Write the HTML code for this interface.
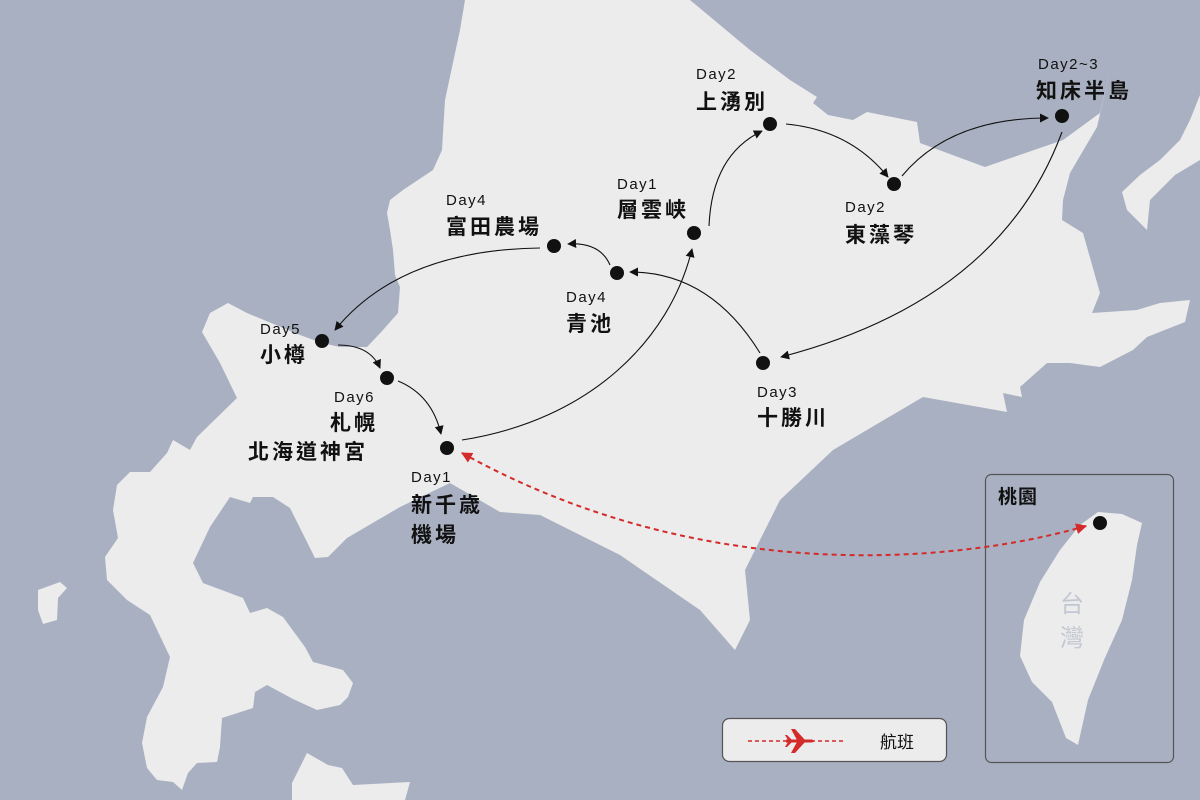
<!DOCTYPE html>
<html><head><meta charset="utf-8"><style>
html,body{margin:0;padding:0;background:#a9b0c1;}
svg{display:block}
.d{font-family:"Liberation Sans","Noto Sans CJK JP",sans-serif;font-size:15px;fill:#111;letter-spacing:1.5px}
.n{font-family:"Liberation Sans","Noto Sans CJK TC",sans-serif;font-size:21px;font-weight:bold;fill:#111;letter-spacing:3px}
</style></head><body>
<svg width="1200" height="800" viewBox="0 0 1200 800" xmlns="http://www.w3.org/2000/svg">
<defs>
<marker id="a" viewBox="0 0 10 10" refX="9" refY="5" markerWidth="9" markerHeight="9" orient="auto-start-reverse" markerUnits="userSpaceOnUse"><path d="M0,0 L10,5 L0,10 z" fill="#111"/></marker>
<marker id="r" viewBox="0 0 10 10" refX="9" refY="5" markerWidth="11" markerHeight="11" orient="auto-start-reverse" markerUnits="userSpaceOnUse"><path d="M0,0 L10,5 L0,10 z" fill="#d42a2a"/></marker>
</defs>
<rect width="1200" height="800" fill="#a9b0c1"/>
<g fill="#ececec">
<polygon points="465,0 690,0 750,50 790,80 817,97 813,103 828,115 853,120 867,112 917,122 920,143 985,167 1063,140 1100,113 1112,62 1097,127 1070,173 1063,200 1062,220 1083,233 1100,293 1092,313 1137,310 1160,303 1190,300 1185,322 1147,337 1133,350 1100,367 1070,363 1047,363 1020,387 1022,397 1003,393 1007,412 923,397 833,450 780,500 745,570 750,620 735,650 700,610 620,555 540,515 500,512 450,483 400,507 347,538 328,557 315,558 290,508 273,497 253,497 250,503 230,497 210,527 193,563 203,583 243,598 250,613 267,608 283,617 305,647 313,662 343,670 353,683 348,697 340,705 317,710 293,699 267,685 255,692 253,708 222,718 220,747 217,762 197,763 188,773 182,790 173,782 157,780 147,768 142,743 147,717 163,687 170,657 150,615 127,600 107,580 105,557 118,538 113,510 117,485 130,472 150,472 167,453 173,440 190,450 197,437 237,398 220,363 202,332 210,313 228,303 247,313 300,335 322,343 340,347 367,347 383,330 398,313 400,287 395,275 393,250 390,230 387,213 390,200 403,190 433,170 442,150 445,100 460,30"/>
<polygon points="38,590 60,582 67,588 58,598 57,620 43,624 38,610"/>
<polygon points="292,783 307,753 328,765 342,768 353,785 410,782 405,800 292,800"/>
<polygon points="1200,95 1190,120 1180,140 1160,160 1140,175 1122,192 1127,210 1147,230 1150,200 1175,175 1200,160"/>
</g>
<rect x="985.5" y="474.5" width="188" height="288" rx="6" fill="#a9b0c1" stroke="#555" stroke-width="1.2"/>
<polygon fill="#ececec" points="1098,512 1122,514 1142,523 1137,545 1132,580 1122,620 1104,660 1088,700 1078,745 1066,738 1052,702 1032,682 1020,656 1024,620 1040,582 1060,550 1080,525"/>
<text x="1060" y="612" font-family="Liberation Sans,Noto Sans CJK TC,sans-serif" font-size="24" fill="#c3c7d2">台</text>
<text x="1060" y="646" font-family="Liberation Sans,Noto Sans CJK TC,sans-serif" font-size="24" fill="#c3c7d2">灣</text>
<text x="998" y="503" class="n" style="font-size:19px;letter-spacing:1px">桃園</text>
<circle cx="1100" cy="523" r="7" fill="#111"/>
<g fill="none" stroke="#111" stroke-width="1.1" marker-end="url(#a)">
<path d="M462,440 C590,420 670,340 692,249"/>
<path d="M709,226 Q712,155 762,131"/>
<path d="M786,124 Q850,130 888,177"/>
<path d="M902,176 Q950,118 1048,118"/>
<path d="M1062,132 Q1000,300 781,357"/>
<path d="M760,353 Q710,272 630,272"/>
<path d="M610,265 Q600,242 568,244"/>
<path d="M540,248 Q400,250 335,330"/>
<path d="M338,345 Q370,345 380,368"/>
<path d="M398,381 Q432,395 441,434"/>
</g>
<path d="M1086,526 C950,565 700,585 462,453" fill="none" stroke="#d42a2a" stroke-width="2" stroke-dasharray="5,4" marker-end="url(#r)" marker-start="url(#r)"/>
<g fill="#111">
<circle cx="447" cy="448" r="7"/><circle cx="387" cy="378" r="7"/><circle cx="322" cy="341" r="7"/>
<circle cx="554" cy="246" r="7"/><circle cx="617" cy="273" r="7"/><circle cx="694" cy="233" r="7"/>
<circle cx="770" cy="124" r="7"/><circle cx="894" cy="184" r="7"/><circle cx="1062" cy="116" r="7"/>
<circle cx="763" cy="363" r="7"/>
</g>
<text class="d" x="696" y="79">Day2</text><text class="n" x="696" y="109">上湧別</text>
<text class="d" x="1038" y="69">Day2~3</text><text class="n" x="1036" y="98">知床半島</text>
<text class="d" x="845" y="212">Day2</text><text class="n" x="845" y="242">東藻琴</text>
<text class="d" x="617" y="189">Day1</text><text class="n" x="617" y="217">層雲峡</text>
<text class="d" x="446" y="205">Day4</text><text class="n" x="446" y="234">富田農場</text>
<text class="d" x="566" y="302">Day4</text><text class="n" x="566" y="331">青池</text>
<text class="d" x="260" y="334">Day5</text><text class="n" x="260" y="362">小樽</text>
<text class="d" x="334" y="402">Day6</text><text class="n" x="330" y="430">札幌</text>
<text class="n" x="248" y="459">北海道神宮</text>
<text class="d" x="411" y="482">Day1</text><text class="n" x="411" y="512">新千歳</text><text class="n" x="411" y="542">機場</text>
<text class="d" x="757" y="397">Day3</text><text class="n" x="757" y="425">十勝川</text>
<rect x="722.5" y="718.5" width="224" height="43" rx="7" fill="#ececec" stroke="#555" stroke-width="1.2"/>
<line x1="748" y1="741" x2="846" y2="741" stroke="#d42a2a" stroke-width="1.6" stroke-dasharray="4,3"/>
<g fill="#d42a2a" transform="translate(800,741)">
<path d="M-14,-1.5 L12,-1.5 Q16,0 12,1.5 L-14,1.5 z"/>
<path d="M-3,-1 L-9,-12 L-5,-12 L5,-1 z"/><path d="M-3,1 L-9,12 L-5,12 L5,1 z"/>
<path d="M-12,-1 L-15,-6 L-13,-6 L-8,-1 z"/><path d="M-12,1 L-15,6 L-13,6 L-8,1 z"/>
</g>
<text x="880" y="748" font-family="Liberation Sans,Noto Sans CJK TC,sans-serif" font-size="17" fill="#111">航班</text>
</svg>
</body></html>
